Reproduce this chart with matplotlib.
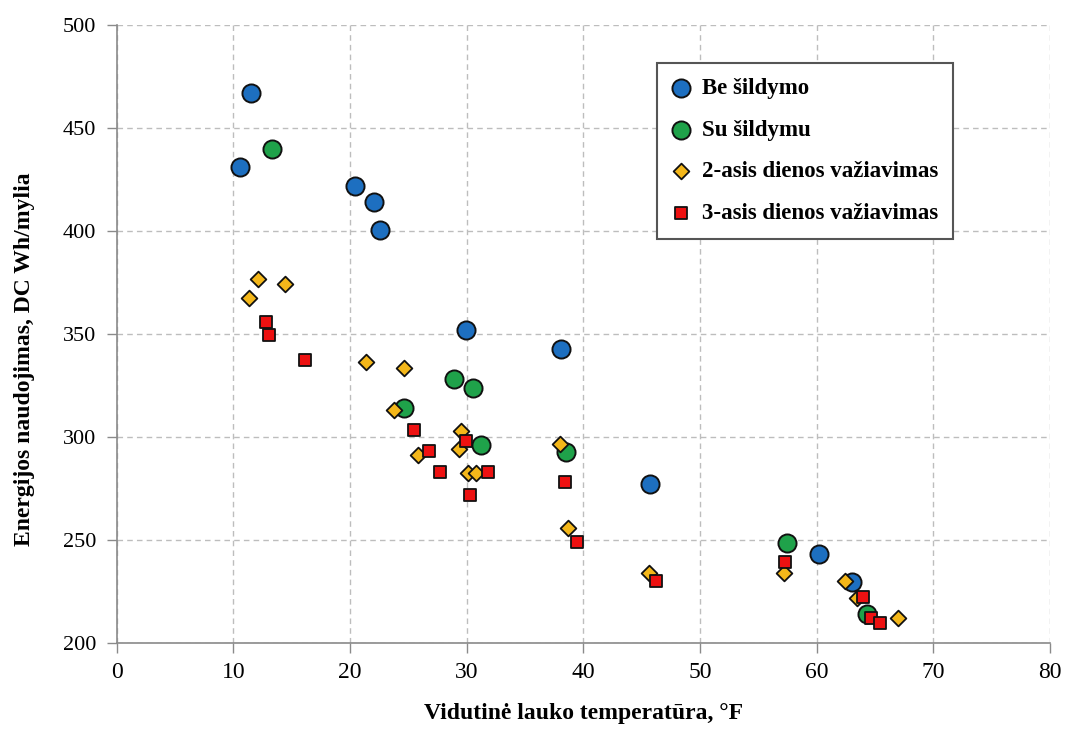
import matplotlib.pyplot as plt

# average outdoor temperature (F) vs DC energy use (Wh/mile)
be_x = [11.5, 10.6, 20.4, 22.05, 22.6, 29.9, 38.1, 45.7, 60.2, 63.0]
be_y = [467, 431, 422, 414, 400.5, 352, 342.7, 277, 243, 229.6]

su_x = [13.3, 24.6, 28.9, 30.5, 31.2, 38.5, 57.5, 64.3]
su_y = [440, 314, 328, 323.6, 296.3, 292.8, 248.5, 214]

d2_x = [12.1, 14.4, 11.3, 21.35, 24.65, 23.8, 29.5, 29.3, 25.8, 30.1, 30.8,
        38.0, 38.7, 45.6, 57.2, 62.4, 63.5, 67.0]
d2_y = [376.7, 374.1, 367.3, 336.6, 333.3, 313.2, 302.8, 294.3, 291.4, 282.4,
        282.4, 296.7, 255.7, 234.2, 234.1, 230, 222, 212]

d3_x = [12.8, 13.05, 16.1, 25.5, 26.8, 29.9, 27.75, 31.8, 30.3, 38.4, 39.5,
        46.25, 57.3, 64.0, 64.7, 65.4]
d3_y = [356, 349.7, 337.5, 303.6, 293, 298.2, 283, 283.2, 271.8, 278.2, 248.8,
        230, 239.3, 222.3, 212, 209.9]

labels = ['Be šildymo', 'Su šildymu', '2-asis dienos važiavimas', '3-asis dienos važiavimas']

serif = ['Liberation Serif', 'DejaVu Serif']


def main():
	plt.rcParams['font.family'] = serif
	fig = plt.figure(figsize=(10.67, 7.31), dpi=100)
	ax = fig.add_axes([0.1094, 0.1204, 0.8746, 0.8454])

	ax.scatter(be_x, be_y, s=170, marker='o', c='#1d6fc0', edgecolors='#111111',
		linewidths=1.4, label=labels[0], zorder=3)
	ax.scatter(su_x, su_y, s=170, marker='o', c='#1fa24a', edgecolors='#111111',
		linewidths=1.4, label=labels[1], zorder=4)
	ax.scatter(d2_x, d2_y, s=64, marker='D', c='#f4b71a', edgecolors='#111111',
		linewidths=1.3, label=labels[2], zorder=5)
	ax.scatter(d3_x, d3_y, s=72, marker='s', c='#ee1111', edgecolors='#111111',
		linewidths=1.3, label=labels[3], zorder=6)

	ax.set_xlim(0, 80)
	ax.set_ylim(200, 500)
	ax.set_xticks(range(0, 81, 10))
	ax.set_yticks(range(200, 501, 50))
	ax.grid(True, color='#bdbdbd', linestyle=(0, (4, 3)), linewidth=1.0, zorder=0)
	ax.set_axisbelow(True)

	for side in ('top', 'right'):
		ax.spines[side].set_visible(False)
	for side in ('left', 'bottom'):
		ax.spines[side].set_color('#8a8a8a')
		ax.spines[side].set_linewidth(1.2)
	ax.tick_params(direction='out', length=7, color='#8a8a8a', width=1.0)
	ax.tick_params(axis='x', labelsize=17, pad=7)
	ax.tick_params(axis='y', labelsize=16, pad=8)

	ax.set_xlabel('Vidutinė lauko temperatūra, °F', fontsize=17, fontweight='bold', labelpad=14)
	ax.set_ylabel('Energijos naudojimas, DC Wh/mylia', fontsize=17, fontweight='bold')
	ax.yaxis.set_label_coords(-0.088, 0.46)

	leg = ax.legend(loc='upper left', bbox_to_anchor=(0.579, 0.9385),
		prop={'family': serif, 'weight': 'bold', 'size': 16.5},
		frameon=True, fancybox=False, shadow=False, borderpad=0.65,
		labelspacing=0.9, handlelength=0.8, handletextpad=0.5, borderaxespad=0)
	frame = leg.get_frame()
	frame.set_edgecolor('#555555')
	frame.set_linewidth(1.5)
	frame.set_alpha(1)

	fig.savefig('out.png', dpi=100)


if __name__ == '__main__':
	main()
